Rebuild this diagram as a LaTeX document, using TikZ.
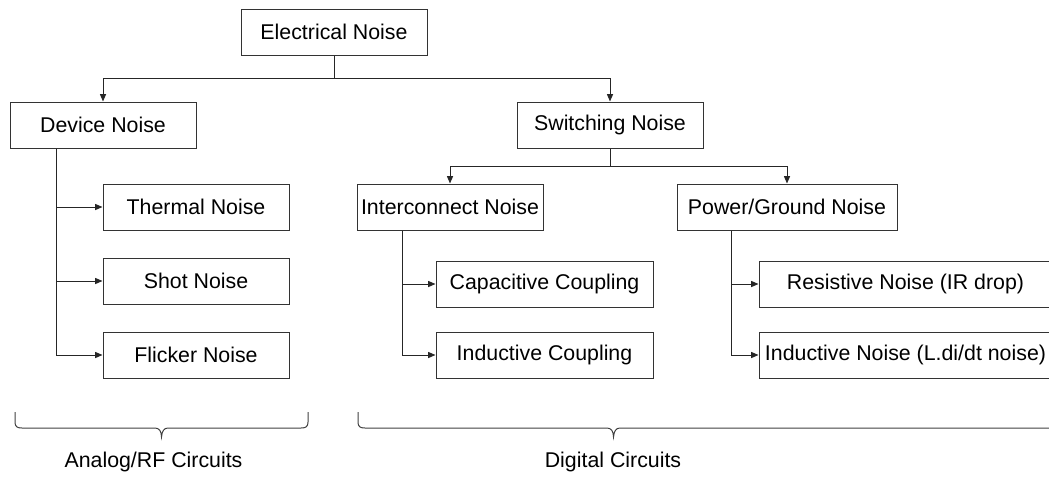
\documentclass[tikz,border=0pt]{standalone}
\usepackage{fontspec}
\setmainfont{Liberation Sans}
\usetikzlibrary{arrows.meta}
\begin{document}
\begin{tikzpicture}[x=0.75pt,y=-0.75pt,
  box/.style={draw=black!80,line width=0.75pt,inner sep=0pt,minimum height=34.5pt,minimum width=139.5pt,font=\fontsize{16}{19}\selectfont,text=black},
  lbl/.style={font=\fontsize{16}{19}\selectfont,text=black,inner sep=0pt},
  link/.style={draw=black!85,line width=0.75pt},
  arr/.style={link,-{Triangle[length=5.5pt,width=4.5pt]}},
  brace/.style={draw=black!75,line width=0.75pt}]
\useasboundingbox (0,0) rectangle (1049,476);
% nodes
\node[box] (elec)  at (334,32)    {Electrical Noise};
\node[box] (dev)   at (103,125)   {Device Noise};
\node[box] (sw)    at (610,125)   {Switching Noise};
\node[box] (therm) at (196,207)   {Thermal Noise};
\node[box] (shot)  at (196,281)   {Shot Noise};
\node[box] (flick) at (196,355)   {Flicker Noise};
\node[box] (inter) at (450,207)   {Interconnect Noise};
\node[box,minimum width=165pt] (power) at (787,207) {Power/Ground Noise};
\node[box,minimum width=162.75pt] (cap) at (544.5,284) {Capacitive Coupling};
\node[box,minimum width=162.75pt] (ind) at (544.5,355) {Inductive Coupling};
\node[box,minimum width=219.75pt] (res) at (905.5,284) {Resistive Noise (IR drop)};
\node[box,minimum width=219.75pt] (indn) at (905.5,355) {Inductive Noise (L.di/dt noise)};
% connectors
\draw[arr] (elec.south) -- ++(0,23) -| (dev.north);
\draw[arr] (elec.south) -- ++(0,23) -| (sw.north);
\draw[arr] (sw.south) -- ++(0,18) -| (inter.north);
\draw[arr] (sw.south) -- ++(0,18) -| (power.north);
\draw[arr] (dev.south west) ++(47,0) |- (therm.west);
\draw[arr] (dev.south west) ++(47,0) |- (shot.west);
\draw[arr] (dev.south west) ++(47,0) |- (flick.west);
\draw[arr] (inter.south west) ++(46,0) |- (cap.west);
\draw[arr] (inter.south west) ++(46,0) |- (ind.west);
\draw[arr] (power.south west) ++(55,0) |- (res.west);
\draw[arr] (power.south west) ++(55,0) |- (indn.west);
% braces
\draw[brace] (15,412) -- (15,422) .. controls (15,426.5) and (17,428) .. (22,428)
  -- (155,428) .. controls (159,428) and (161.5,431) .. (161.5,437)
  .. controls (162,431) and (164,428) .. (168,428)
  -- (301,428) .. controls (306,428) and (308,426.5) .. (308,422) -- (308,412);
\draw[brace] (358,412) -- (358,422) .. controls (358,426.5) and (360,428) .. (365,428)
  -- (607,428) .. controls (611,428) and (613.5,431) .. (613.5,437)
  .. controls (614,431) and (616,428) .. (620,428)
  -- (1060,428);
\node[lbl] (analog)  at (153.5,462) {Analog/RF Circuits};
\node[lbl] (digital) at (613,462)   {Digital Circuits};
\end{tikzpicture}
\end{document}
